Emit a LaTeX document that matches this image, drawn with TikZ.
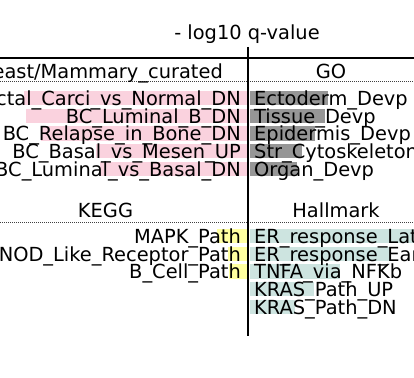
\documentclass[tikz,border=0pt]{standalone}
\usepackage{fontspec}
\setmainfont{DejaVu Sans}
\definecolor{barpink}{RGB}{250,210,222}
\definecolor{bargrey}{RGB}{150,150,150}
\definecolor{baryellow}{RGB}{255,255,160}
\definecolor{barteal}{RGB}{205,228,224}
\begin{document}
\begin{tikzpicture}[x=1pt,y=-1pt,
  lbl/.style={inner sep=0pt, font=\fontsize{19.4}{19.4}\selectfont, text=black},
  lft/.style={lbl, anchor=base east},
  rgt/.style={lbl, anchor=base west},
  hdr/.style={lbl, anchor=base},
  solidline/.style={line width=2pt, black},
  dotline/.style={line width=1pt, black!75, dash pattern=on 1pt off 1pt}]
\useasboundingbox (0,0) rectangle (414,377);
\clip (0,0) rectangle (414,377);
% bars, Breast/Mammary_curated
\foreach \l/\k in {24/0,26/1,41/2,96/3,100/4}
  \fill[barpink] (\l,{98+17.7*\k-7.2}) rectangle (247,{98+17.7*\k+7.2});
% bars, GO
\foreach \r/\k in {328/0,325/1,315/2,302/3,297/4}
  \fill[bargrey] (250,{98+17.7*\k-7.2}) rectangle (\r,{98+17.7*\k+7.2});
% bars, KEGG
\foreach \l/\k in {217/0,228/1,229/2}
  \fill[baryellow] (\l,{236+17.7*\k-7.2}) rectangle (247,{236+17.7*\k+7.2});
% bars, Hallmark
\foreach \r/\k in {420/0,390/1,340/2,314/3,295/4}
  \fill[barteal] (250,{236+17.7*\k-7.2}) rectangle (\r,{236+17.7*\k+7.2});
% lines
\coordinate (hl) at (0,58);
\coordinate (hr) at (414,58);
\coordinate (d1l) at (0,82);
\coordinate (d1r) at (414,82);
\coordinate (d2l) at (0,222);
\coordinate (d2r) at (414,222);
\coordinate (axtop) at (248,47);
\coordinate (axbot) at (248,336);
\draw[solidline] (hl) -- (hr);
\draw[dotline] (d1l) -- (d1r);
\draw[dotline] (d2l) -- (d2r);
\draw[solidline] (axtop) -- (axbot);
% title and headers
\node[hdr] (title) at (247,40) {- log10 q-value};
\node[lbl, anchor=base east] (hbreast) at (223,79) {Breast/Mammary\_curated};
\node[hdr] (hgo) at (331,79) {GO};
\node[hdr] (hkegg) at (105.5,217) {KEGG};
\node[hdr] (hhall) at (336,217) {Hallmark};
% labels, Breast/Mammary_curated
\node[lft] (b1) at (241,105.5) {Ductal\_Carci\_vs\_Normal\_DN};
\node[lft] (b2) at (241,123.2) {BC\_Luminal\_B\_DN};
\node[lft] (b3) at (241,140.9) {BC\_Relapse\_in\_Bone\_DN};
\node[lft] (b4) at (241,158.6) {BC\_Basal\_vs\_Mesen\_UP};
\node[lft] (b5) at (241,176.3) {BC\_Luminal\_vs\_Basal\_DN};
% labels, GO
\node[rgt] (g1) at (254,105.5) {Ectoderm\_Devp};
\node[rgt] (g2) at (254,123.2) {Tissue\_Devp};
\node[rgt] (g3) at (254,140.9) {Epidermis\_Devp};
\node[rgt] (g4) at (254,158.6) {Str\_Cytoskeleton};
\node[rgt] (g5) at (254,176.3) {Organ\_Devp};
% labels, KEGG
\node[lft] (k1) at (241,243.5) {MAPK\_Path};
\node[lft] (k2) at (241,261.2) {NOD\_Like\_Receptor\_Path};
\node[lft] (k3) at (241,278.9) {B\_Cell\_Path};
% labels, Hallmark
\node[rgt] (m1) at (254,243.5) {ER\_response\_Late};
\node[rgt] (m2) at (254,261.2) {ER\_response\_Early};
\node[rgt] (m3) at (254,278.9) {TNFA\_via\_NFKb};
\node[rgt] (m4) at (254,296.6) {KRAS\_Path\_UP};
\node[rgt] (m5) at (254,314.3) {KRAS\_Path\_DN};
\end{tikzpicture}
\end{document}
